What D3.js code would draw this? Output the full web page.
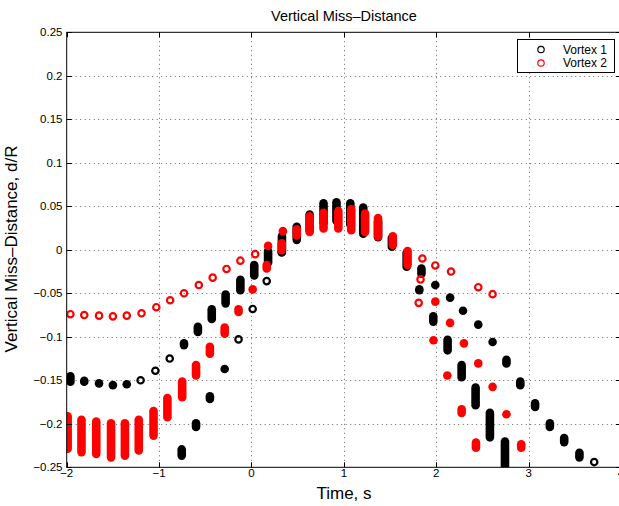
<!DOCTYPE html>
<html>
<head>
    <meta charset="UTF-8">
    <title>Vertical Miss-Distance</title>
    <script src="https://d3js.org/d3.v7.min.js"></script>
    <style>
        body { margin: 0; background: #fff; }
        text { font-family: "Liberation Sans", Arial, Helvetica, sans-serif; fill: #000; }
    </style>
</head>
<body>
    <svg class="chart"></svg>

    <script>
    // each cluster: time, top and bottom of the streak (top == bottom -> one circle)
    const v1Time = [-1.96, -1.81, -1.65, -1.50, -1.35, -1.20, -1.04, -0.885, -0.73, -0.58,
        -0.43, -0.28, -0.12, 0.03, 0.18, 0.33, 0.49, 0.63, 0.78, 0.92,
        1.07, 1.21, 1.37, 1.52, 1.68, 1.84, 1.99, 2.15, 2.29, 2.455,
        2.61, 2.76, 2.91, 3.07, 3.23, 3.385, 3.55, 3.71,
        -0.755, -0.60, -0.45, -0.29, -0.14, 0.013, 0.165, 0.327,
        1.817, 1.968, 2.123, 2.275, 2.426, 2.581, 2.744];
    const v1High = [-0.142, -0.147, -0.150, -0.152, -0.152, -0.150, -0.139, -0.125, -0.104, -0.085,
        -0.065, -0.048, -0.031, -0.014, 0.002, 0.019, 0.030, 0.044, 0.057, 0.058,
        0.057, 0.052, 0.036, 0.017, 0.000, -0.018, -0.037, -0.052, -0.067, -0.084,
        -0.103, -0.123, -0.148, -0.173, -0.196, -0.213, -0.230, -0.244,
        -0.226, -0.196, -0.165, -0.134, -0.103, -0.068, -0.036, 0.000,
        -0.042, -0.073, -0.100, -0.129, -0.155, -0.184, -0.217];
    const v1Low = [-0.155, -0.155, -0.157, -0.159, -0.157, -0.150, -0.139, -0.125, -0.113, -0.098,
        -0.083, -0.065, -0.050, -0.033, -0.018, -0.006, 0.008, 0.019, 0.028, 0.030,
        0.026, 0.015, 0.011, 0.000, -0.023, -0.031, -0.044, -0.058, -0.073, -0.088,
        -0.109, -0.134, -0.159, -0.184, -0.207, -0.2245, -0.242, -0.244,
        -0.240, -0.207, -0.175, -0.140, -0.103, -0.068, -0.036, -0.006,
        -0.050, -0.086, -0.119, -0.150, -0.182, -0.219, -0.255];

    const v2Time = [-1.96, -1.81, -1.65, -1.50, -1.35, -1.19, -1.03, -0.88, -0.73, -0.57,
        -0.42, -0.27, -0.12, 0.04, 0.18, 0.34, 0.49, 0.63, 0.78, 0.94,
        1.08, 1.23, 1.37, 1.53, 1.69, 1.85, 1.99, 2.16, 2.455, 2.61,
        -1.99, -1.84, -1.68, -1.52, -1.37, -1.22, -1.06, -0.91, -0.75, -0.60,
        -0.45, -0.29, -0.14, 0.013, 0.165, 0.327,
        1.83, 1.81, 1.99, 1.97, 2.15, 2.12, 2.30, 2.275, 2.455, 2.43, 2.61, 2.76, 2.92];
    const v2High = [-0.074, -0.075, -0.0757, -0.0765, -0.0757, -0.073, -0.066, -0.058, -0.050, -0.0405,
        -0.032, -0.022, -0.0125, -0.005, 0.007, 0.025, 0.027, 0.042, 0.046, 0.048,
        0.050, 0.045, 0.040, 0.019, 0.002, -0.010, -0.018, -0.025, -0.043, -0.051,
        -0.188, -0.192, -0.194, -0.196, -0.196, -0.192, -0.182, -0.167, -0.148, -0.129,
        -0.108, -0.086, -0.065, -0.043, -0.014, 0.011,
        -0.034, -0.061, -0.056, -0.102, -0.082, -0.141, -0.104, -0.180, -0.127, -0.218, -0.154, -0.186, -0.220];
    const v2Low = [-0.074, -0.075, -0.0757, -0.0765, -0.0757, -0.073, -0.066, -0.058, -0.050, -0.0405,
        -0.032, -0.022, -0.0125, -0.005, 0.002, 0.018, 0.013, 0.017, 0.021, 0.021,
        0.019, 0.017, 0.012, 0.002, -0.021, -0.010, -0.018, -0.025, -0.043, -0.051,
        -0.232, -0.236, -0.238, -0.242, -0.240, -0.234, -0.217, -0.196, -0.173, -0.148,
        -0.123, -0.100, -0.075, -0.048, -0.025, -0.004,
        -0.034, -0.061, -0.063, -0.106, -0.086, -0.148, -0.111, -0.191, -0.134, -0.231, -0.161, -0.192, -0.231];

    const seriesNames = ["Vortex 1", "Vortex 2"];
    const seriesColors = ["#000000", "#ff0000"];
    const xTicks = [-2, -1, 0, 1, 2, 3, 4];
    const yTicks = [-0.25, -0.2, -0.15, -0.1, -0.05, 0, 0.05, 0.1, 0.15, 0.2, 0.25];

    const width = 619;
    const height = 506;
    const plot = {left: 66.7, right: 621, top: 32.3, bottom: 467.3};
    const r = 3.2, sw = 2.2;
    const outer = r + sw / 2;

    const svg = d3.select(".chart")
        .attr("width", width)
        .attr("height", height);

    const x_scale = d3.scaleLinear().domain([-2, 4]).range([plot.left, plot.right]);
    const y_scale = d3.scaleLinear().domain([-0.25, 0.25]).range([plot.bottom, plot.top]);

    svg.append("clipPath").attr("id", "clip")
        .append("rect")
        .attr("x", plot.left).attr("y", plot.top)
        .attr("width", plot.right - plot.left).attr("height", plot.bottom - plot.top);

    // dotted grid
    const grid = svg.append("g").attr("stroke", "#666").attr("stroke-width", 1)
        .attr("stroke-dasharray", "1,3.5");
    grid.selectAll(".gx").data(xTicks.slice(1, -1)).enter().append("line")
        .attr("x1", d => Math.round(x_scale(d)) + 0.5).attr("x2", d => Math.round(x_scale(d)) + 0.5)
        .attr("y1", plot.top).attr("y2", plot.bottom);
    grid.selectAll(".gy").data(yTicks.slice(1, -1)).enter().append("line")
        .attr("y1", d => Math.round(y_scale(d)) + 0.5).attr("y2", d => Math.round(y_scale(d)) + 0.5)
        .attr("x1", plot.left).attr("x2", plot.right);

    // data clusters
    const marks = svg.append("g").attr("clip-path", "url(#clip)");
    const series = [
        {t: v1Time, hi: v1High, lo: v1Low},
        {t: v2Time, hi: v2High, lo: v2Low}
    ];
    series.forEach((s, i) => {
        const rows = s.t.map((t, j) => ({t: t, hi: s.hi[j], lo: s.lo[j]}));
        const g = marks.append("g").attr("stroke", seriesColors[i]).attr("fill", "none");

        g.selectAll("circle").data(rows.filter(d => d.hi === d.lo)).enter().append("circle")
            .attr("cx", d => x_scale(d.t))
            .attr("cy", d => y_scale(d.hi))
            .attr("r", r)
            .attr("stroke-width", sw);

        g.selectAll("line").data(rows.filter(d => d.hi !== d.lo)).enter().append("line")
            .attr("x1", d => x_scale(d.t))
            .attr("x2", d => x_scale(d.t))
            .attr("y1", d => {
                const a = y_scale(d.hi), b = y_scale(d.lo);
                return Math.min(a + 3, (a + b) / 2);
            })
            .attr("y2", d => {
                const a = y_scale(d.hi), b = y_scale(d.lo);
                return Math.max(b - 3, (a + b) / 2);
            })
            .attr("stroke-width", 2 * outer)
            .attr("stroke-linecap", "round");
    });

    // axes box and inward ticks
    const axes = svg.append("g").attr("stroke", "#000").attr("stroke-width", 1).attr("fill", "none");
    axes.append("rect")
        .attr("x", plot.left).attr("y", plot.top)
        .attr("width", plot.right - plot.left).attr("height", plot.bottom - plot.top);
    xTicks.forEach(d => {
        const px = Math.round(x_scale(d)) + 0.5;
        axes.append("line").attr("x1", px).attr("x2", px).attr("y1", plot.bottom).attr("y2", plot.bottom - 5);
        axes.append("line").attr("x1", px).attr("x2", px).attr("y1", plot.top).attr("y2", plot.top + 5);
    });
    yTicks.forEach(d => {
        const py = Math.round(y_scale(d)) + 0.5;
        axes.append("line").attr("y1", py).attr("y2", py).attr("x1", plot.left).attr("x2", plot.left + 5);
        axes.append("line").attr("y1", py).attr("y2", py).attr("x1", plot.right).attr("x2", plot.right - 5);
    });

    const fmt = v => (v < 0 ? "\u2212" : "") + String(Math.abs(+v.toFixed(2)));

    svg.selectAll(".xl").data(xTicks).enter().append("text")
        .attr("x", d => x_scale(d))
        .attr("y", 477)
        .attr("text-anchor", "middle")
        .style("font-size", "11.5px")
        .text(fmt);

    svg.selectAll(".yl").data(yTicks).enter().append("text")
        .attr("x", 62.5)
        .attr("y", d => y_scale(d) + 4)
        .attr("text-anchor", "end")
        .style("font-size", "11.5px")
        .text(fmt);

    // title and axis labels
    svg.append("text")
        .attr("x", 344).attr("y", 21)
        .attr("text-anchor", "middle")
        .style("font-size", "14.5px")
        .text("Vertical Miss\u2013Distance");

    svg.append("text")
        .attr("x", 344).attr("y", 499)
        .attr("text-anchor", "middle")
        .style("font-size", "17px")
        .text("Time, s");

    svg.append("text")
        .attr("text-anchor", "middle")
        .attr("transform", "translate(17, 249)rotate(-90)")
        .style("font-size", "17px")
        .text("Vertical Miss\u2013Distance, d/R");

    // legend
    const legend = svg.append("g");
    legend.append("rect")
        .attr("x", 517.5).attr("y", 39.5)
        .attr("width", 97).attr("height", 33)
        .attr("fill", "#fff").attr("stroke", "#000").attr("stroke-width", 1);
    seriesNames.forEach((name, i) => {
        legend.append("circle")
            .attr("cx", 541).attr("cy", 49.5 + i * 13.5)
            .attr("r", 3.2)
            .attr("fill", "none")
            .attr("stroke", seriesColors[i])
            .attr("stroke-width", 1.2);
        legend.append("text")
            .attr("x", 563).attr("y", 53.8 + i * 13.5)
            .style("font-size", "12px")
            .text(name);
    });
    </script>
</body>
</html>
